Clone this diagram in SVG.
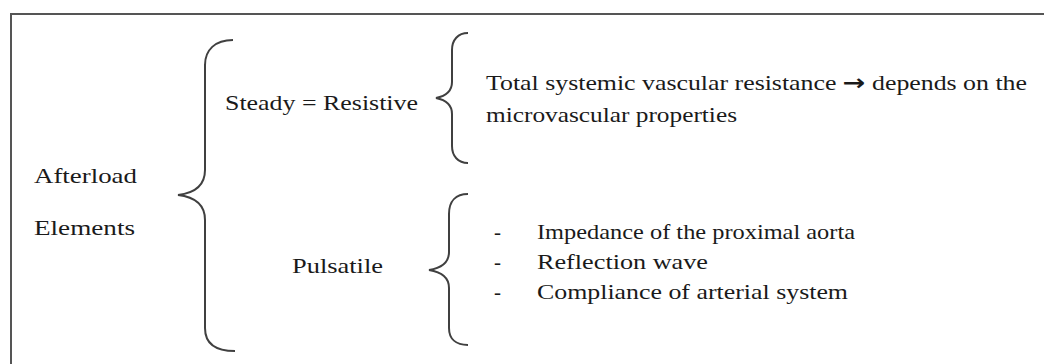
<svg xmlns="http://www.w3.org/2000/svg" width="1044" height="364" viewBox="0 0 1044 364">
<style>
  text { font-family: "Liberation Serif", "Times New Roman", "DejaVu Serif", serif; font-size: 21px; fill: #1a1a1a; }
  .br { fill: none; stroke: #404040; stroke-width: 2; }
  .arr { font-weight: bold; font-family: "DejaVu Sans", sans-serif; font-size: 22px; }
</style>
<rect x="0" y="0" width="1044" height="364" fill="#ffffff"/>
<rect x="11" y="14" width="1040" height="360" fill="none" stroke="#555555" stroke-width="2"/>
<g id="connectors">
  <path class="br" d="M233,40 C215,40 205,50 205,65 L205,170 C205,185 195,193 178,195 C195,197 205,205 205,220 L205,328 C205,343 215,351 235,351"/>
  <path class="br" d="M468,33 C458,33 452,40 452,50 L452,82 C452,91 446,96 436,98 C446,100 452,105 452,114 L452,146 C452,156 458,163 468,163"/>
  <path class="br" d="M468,194 C456,194 449,201 449,214 L449,252 C449,262 442,268 429,270 C442,272 449,278 449,288 L449,328 C449,339 456,345 468,345"/>
</g>
<g id="afterload">
  <text x="34" y="183" textLength="103" lengthAdjust="spacingAndGlyphs">Afterload</text>
  <text x="34" y="235" textLength="101" lengthAdjust="spacingAndGlyphs">Elements</text>
</g>
<g id="steady">
  <text x="225" y="110" textLength="193" lengthAdjust="spacingAndGlyphs">Steady = Resistive</text>
</g>
<g id="pulsatile">
  <text x="292" y="273" textLength="91" lengthAdjust="spacingAndGlyphs">Pulsatile</text>
</g>
<g id="steady-detail">
  <text x="486" y="90" textLength="541" lengthAdjust="spacingAndGlyphs">Total systemic vascular resistance <tspan class="arr">→</tspan> depends on the</text>
  <text x="486" y="122" textLength="251" lengthAdjust="spacingAndGlyphs">microvascular properties</text>
</g>
<g id="pulsatile-detail">
  <text x="494" y="239">-</text>
  <text x="537" y="239" textLength="318" lengthAdjust="spacingAndGlyphs">Impedance of the proximal aorta</text>
  <text x="494" y="269">-</text>
  <text x="537" y="269" textLength="171" lengthAdjust="spacingAndGlyphs">Reflection wave</text>
  <text x="494" y="299">-</text>
  <text x="537" y="299" textLength="311" lengthAdjust="spacingAndGlyphs">Compliance of arterial system</text>
</g>
</svg>
